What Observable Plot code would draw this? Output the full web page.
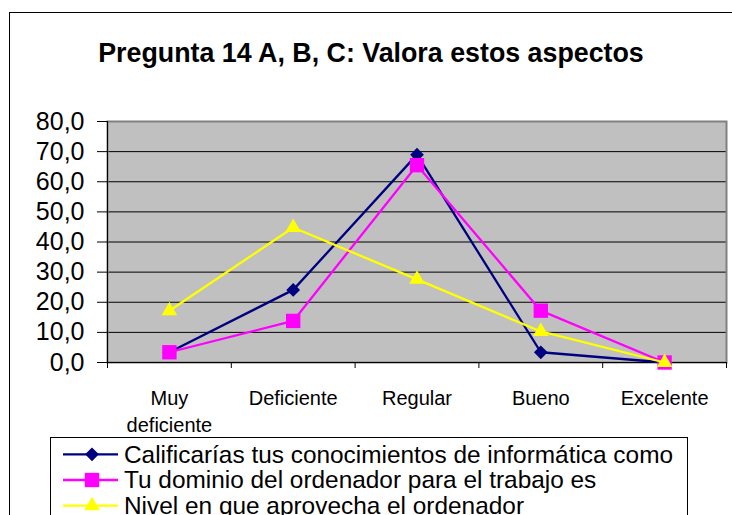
<!DOCTYPE html>
<html><head><meta charset="utf-8">
<script src="https://cdn.jsdelivr.net/npm/d3@7"></script>
<script src="https://cdn.jsdelivr.net/npm/@observablehq/plot@0.6"></script>
<style>
body{margin:0;background:#fff;}
#wrap{position:relative;width:732px;height:515px;overflow:hidden;font-family:"Liberation Sans",Arial,sans-serif;color:#000;}
#border{position:absolute;left:9px;top:12px;width:800px;height:600px;border:1px solid #000;}
#title{position:absolute;left:0;top:40px;width:742px;text-align:center;font-weight:bold;font-size:26.8px;line-height:26.8px;white-space:nowrap;}
#chart{position:absolute;left:0;top:0;}
#legend{position:absolute;left:0;top:0;}
</style></head><body>
<div id="wrap">
  <div id="border"></div>
  <div id="title">Pregunta 14 A, B, C: Valora estos aspectos</div>
  <div id="chart"></div>
  <svg id="legend" width="732" height="515"></svg>
</div>
<script>
// ---- data ----
const categories = ["Muy\ndeficiente", "Deficiente", "Regular", "Bueno", "Excelente"];
const seriesNames = [
  "Calificarías tus conocimientos de informática como",
  "Tu dominio del ordenador para el trabajo es",
  "Nivel en que aprovecha el ordenador"
];
const conocimientos = [3.4, 24.1, 69.0, 3.4, 0];
const dominio = [3.4, 13.8, 65.5, 17.2, 0];
const aprovecha = [17.2, 44.8, 27.6, 10.3, 0];
const yTicks = [0, 10, 20, 30, 40, 50, 60, 70, 80];
const gridTicks = [10, 20, 30, 40, 50, 60, 70];

// ---- styles ----
const seriesStyles = [
  {color: "#000080", symbol: "diamond2", r: 6.2},
  {color: "#FF00FF", symbol: "square", r: 8.1},
  {color: "#FFFF00", symbol: "triangle", r: 5.8}
];
const seriesValues = [conocimientos, dominio, aprovecha];

const rows = seriesValues.map(vals => categories.map((c, i) => ({i, c, v: vals[i]})));
const boundaries = d3.range(categories.length + 1);

const seriesMarks = [];
rows.forEach((data, k) => {
  const s = seriesStyles[k];
  seriesMarks.push(Plot.line(data, {x: d => d.i + 0.5, y: "v", stroke: s.color, strokeWidth: 2.3}));
  seriesMarks.push(Plot.dot(data, {x: d => d.i + 0.5, y: "v", fill: s.color, stroke: "none", symbol: s.symbol, r: s.r}));
});

const chart = Plot.plot({
  width: 732,
  height: 515,
  marginLeft: 107,
  marginRight: 6,
  marginTop: 121,
  marginBottom: 153,
  style: {fontFamily: '"Liberation Sans", Arial, sans-serif', background: "transparent", color: "#000", overflow: "visible"},
  x: {type: "linear", domain: [0, categories.length], axis: null, label: null},
  y: {domain: [0, 80], axis: null, label: null},
  marks: [
    Plot.frame({fill: "#c0c0c0", stroke: "none"}),
    Plot.ruleY(gridTicks, {stroke: "#000", strokeWidth: 1}),
    Plot.frame({stroke: "#808080", strokeWidth: 2}),
    Plot.ruleY([0], {stroke: "#000", strokeWidth: 1}),
    Plot.ruleX([0], {stroke: "#000", strokeWidth: 1}),
    Plot.axisY({ticks: yTicks, tickSize: 10, tickPadding: 13, fontSize: 25, label: null,
      tickFormat: d => d.toFixed(1).replace(".", ","), stroke: "#000", fill: "#000"}),
    Plot.axisX({ticks: boundaries, tickSize: 6, tickFormat: () => "", label: null, stroke: "#000"}),
    Plot.text(categories, {x: (d, i) => i + 0.5, text: d => d, frameAnchor: "bottom",
      lineAnchor: "top", dy: 24, fontSize: 20, lineHeight: 1.33, fill: "#000"}),
    ...seriesMarks
  ]
});
document.getElementById("chart").appendChild(chart);

// ---- legend ----
const lg = d3.select("#legend");
lg.append("rect").attr("x", 50.5).attr("y", 437.5).attr("width", 637).attr("height", 120)
  .attr("fill", "#fff").attr("stroke", "#000").attr("stroke-width", 1);
const symMap = {diamond2: d3.symbolDiamond2, square: d3.symbolSquare, triangle: d3.symbolTriangle};
seriesNames.forEach((name, k) => {
  const s = seriesStyles[k];
  const cy = 454.3 + k * 25.7;
  lg.append("line").attr("x1", 63).attr("x2", 118).attr("y1", cy).attr("y2", cy)
    .attr("stroke", s.color).attr("stroke-width", 2.3);
  lg.append("path").attr("transform", `translate(92,${cy})`)
    .attr("d", d3.symbol(symMap[s.symbol], s.r * s.r * Math.PI)())
    .attr("fill", s.color);
  lg.append("text").attr("x", 124).attr("y", cy + 8.3).text(name)
    .attr("font-size", 24.4).attr("font-family", '"Liberation Sans", Arial, sans-serif').attr("fill", "#000");
});
</script>
</body></html>
